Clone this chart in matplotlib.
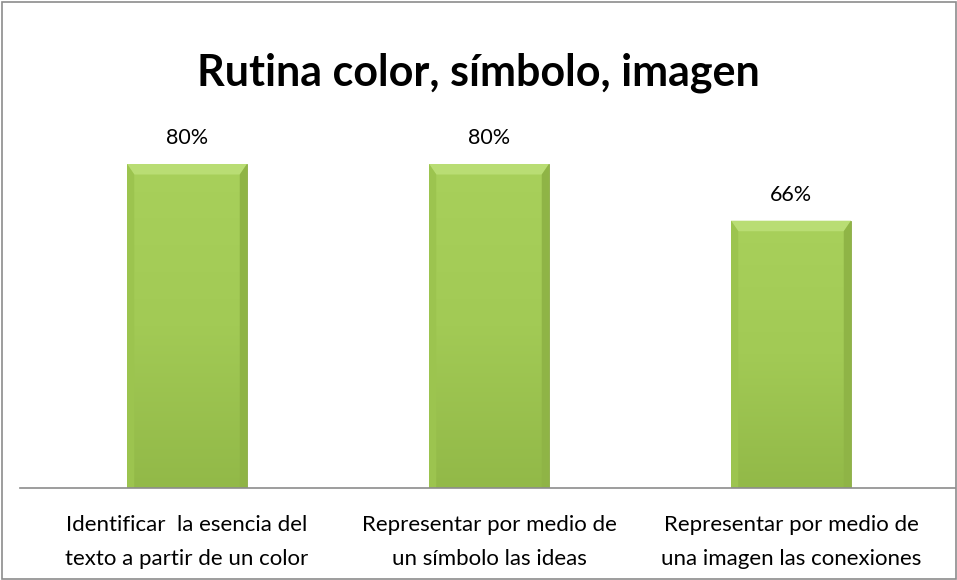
import numpy as np
import matplotlib.pyplot as plt
from matplotlib.patches import Rectangle, Polygon

categories = ['Identificar  la esencia del\ntexto a partir de un color',
              'Representar por medio de\nun símbolo las ideas',
              'Representar por medio de\nuna imagen las conexiones']
values = [80, 80, 66]
value_labels = ['80%', '80%', '66%']
title = 'Rutina color, símbolo, imagen'

plt.rcParams['font.family'] = ['Lato', 'DejaVu Sans']

W, H = 957, 580
fig = plt.figure(figsize=(W / 100, H / 100), dpi=100)

# outer chart border
fig.patches.append(Rectangle((1.5 / W, 1.5 / H), (W - 3) / W, (H - 3) / H,
                             transform=fig.transFigure, fill=False,
                             edgecolor='#8c8c8c', linewidth=1.2))

# plot area: baseline at y=488 px, 80% at y=164 px
base_px, top_px = 488, 164
ppu = (base_px - top_px) / 80.0
ymax = 90
ax_top = base_px - ymax * ppu
ax = fig.add_axes([20 / W, (H - base_px) / H, 935 / W, (base_px - ax_top) / H])
ax.set_xlim(-0.553, 2.543)
ax.set_ylim(0, ymax)
for s in ['top', 'right', 'left']:
    ax.spines[s].set_visible(False)
ax.spines['bottom'].set_color('#8c8c8c')
ax.spines['bottom'].set_linewidth(1.2)
ax.spines['bottom'].set_zorder(6)
ax.set_yticks([])
ax.set_xticks([])

x = np.arange(len(values))
bw = 0.397
bars = ax.bar(x, values, width=bw, color='#9fc750', edgecolor='#8aaa44',
              linewidth=0.6, zorder=2)

# gradient fill clipped to each bar
grad = np.linspace(0, 1, 256).reshape(-1, 1)
cmap = plt.matplotlib.colors.LinearSegmentedColormap.from_list(
    'g', ['#92b948', '#a2ca55', '#a8d05b'])
for b in bars:
    x0, w, h = b.get_x(), b.get_width(), b.get_height()
    im = ax.imshow(grad, extent=(x0, x0 + w, 0, h), origin='lower', cmap=cmap,
                   aspect='auto', zorder=3)
    im.set_clip_path(b)
    # bevel: lighter top, slightly darker sides
    bx, by = w * 0.06, 2.6
    ax.add_patch(Polygon([(x0, h), (x0 + w, h), (x0 + w - bx, h - by), (x0 + bx, h - by)],
                         closed=True, color='#b9dd74', lw=0, zorder=4))
    ax.add_patch(Polygon([(x0, 0), (x0, h), (x0 + bx, h - by), (x0 + bx, 0)],
                         closed=True, color='#9cc44f', lw=0, zorder=4))
    ax.add_patch(Polygon([(x0 + w, 0), (x0 + w, h), (x0 + w - bx, h - by), (x0 + w - bx, 0)],
                         closed=True, color='#8fb446', lw=0, zorder=4))

for xi, v, lab in zip(x, values, value_labels):
    ax.annotate(lab, (xi, v), xytext=(0, 26), textcoords='offset pixels',
                ha='center', va='center', fontsize=15.5, color='#000000')

for xi, c in zip(x, categories):
    ax.annotate(c, (xi, 0), xytext=(0, -54), textcoords='offset pixels',
                ha='center', va='center', fontsize=16, color='#000000',
                linespacing=1.9)

fig.text(0.5, 1 - 73 / H, title, ha='center', va='center', fontsize=31,
         fontweight='bold')

fig.savefig('out.png', dpi=100)
